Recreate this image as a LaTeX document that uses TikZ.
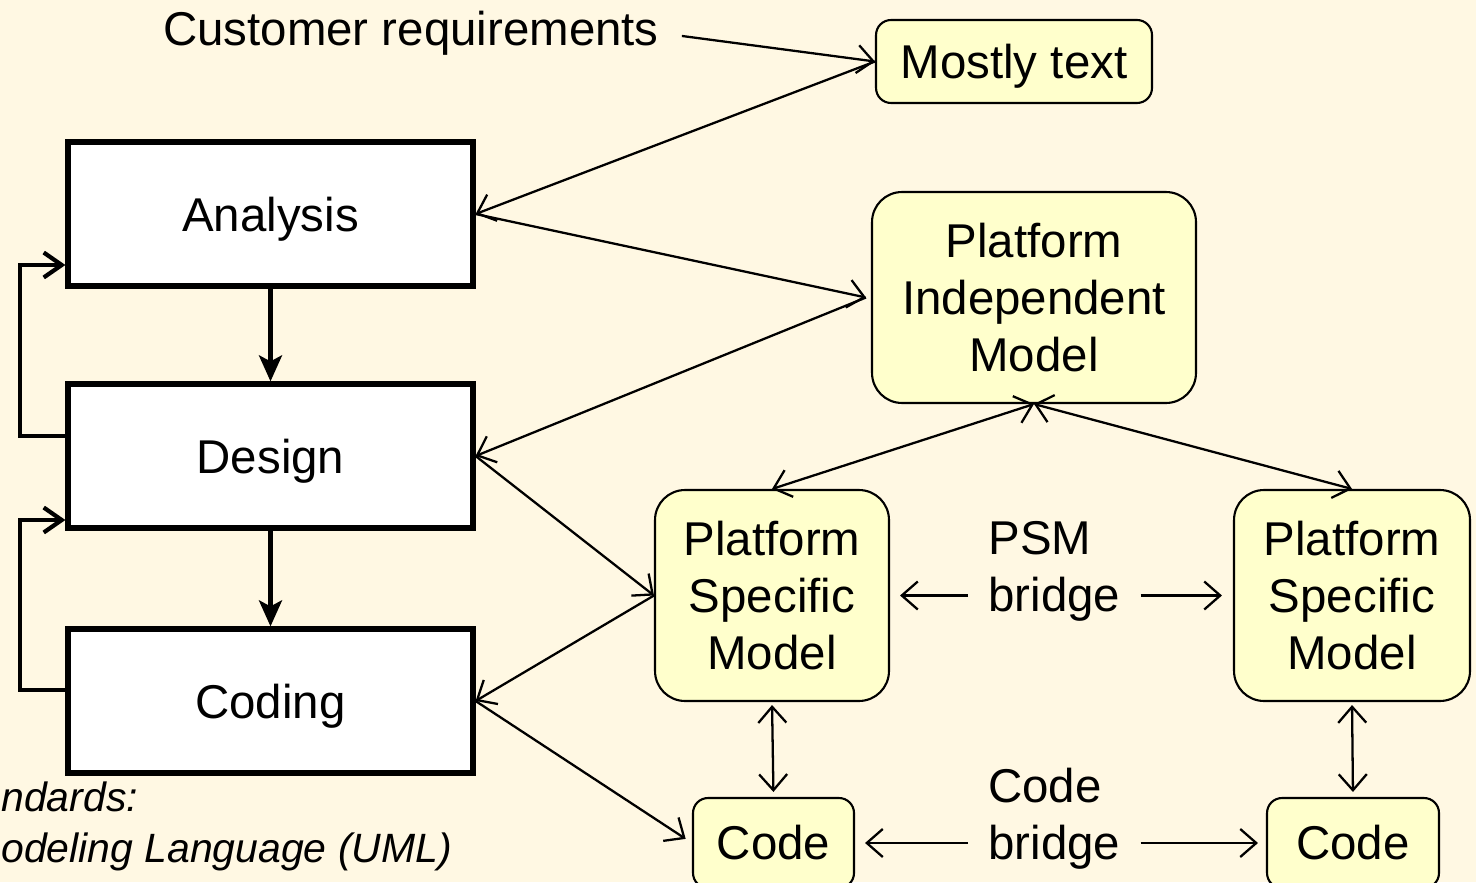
\documentclass[tikz,border=0pt]{standalone}
\usepackage{fontspec}
\setmainfont{Liberation Sans}
\usetikzlibrary{arrows.meta,positioning}
\definecolor{slidebg}{RGB}{255,248,227}
\definecolor{modelfill}{RGB}{255,255,204}

\begin{document}
\begin{tikzpicture}[x=0.02cm, y=-0.02cm,
    font=\fontsize{27}{32.6}\selectfont,
    phase/.style={draw, line width=3pt, fill=white, minimum width=8.1cm, minimum height=2.88cm, inner sep=0pt, text height=19.5pt, text depth=0pt},
    model/.style={draw, line width=1.2pt, fill=modelfill, rounded corners=0.6cm, align=center, inner sep=0pt},
    lbl/.style={align=left, inner xsep=0.4cm},
    link/.style={line width=1.3pt, -{Straight Barb[length=0.32cm,width=0.56cm]}},
    dlink/.style={line width=1.3pt, {Straight Barb[length=0.32cm,width=0.56cm]}-{Straight Barb[length=0.32cm,width=0.56cm]}},
    flow/.style={line width=2.4pt, -{Stealth[length=0.52cm,width=0.46cm,inset=0.12cm]}},
    back/.style={line width=2.4pt, -{Straight Barb[length=0.36cm,width=0.5cm]}}]
    \fill[slidebg] (0,0) rectangle (1476,882);
    \useasboundingbox (0,0) rectangle (1476,882);

    \node[phase] (ana) at (270.5,214) {Analysis};
    \node[phase] (des) at (270.5,456) {Design};
    \node[phase] (cod) at (270.5,701) {Coding};
    \draw[flow] (ana) -- (des);
    \draw[flow] (des) -- (cod);
    \draw[back] (des.west |- 0,436) -| (20,265) -- (ana.west |- 0,265);
    \draw[back] (cod.west |- 0,690) -| (20,520) -- (des.west |- 0,520);

    \node[anchor=base] (req) at (411,46) {Customer requirements};
    \node[model, rounded corners=0.3cm, minimum width=5.52cm, minimum height=1.66cm, text height=19.5pt, text depth=0pt] (txt) at (1014,61.5) {Mostly text};
    \node[model, minimum width=6.48cm, minimum height=4.22cm] (pim) at (1034,297.5) {Platform\\Independent\\Model};
    \node[model, minimum width=4.68cm, minimum height=4.22cm] (psma) at (772,595.5) {Platform\\Specific\\Model};
    \node[model, minimum width=4.72cm, minimum height=4.22cm] (psmb) at (1352,595.5) {Platform\\Specific\\Model};
    \node[model, rounded corners=0.3cm, minimum width=3.22cm, minimum height=1.8cm] (codea) at (773.5,843) {Code};
    \node[model, rounded corners=0.3cm, minimum width=3.44cm, minimum height=1.8cm] (codeb) at (1353,843) {Code};
    \node[lbl, anchor=west] (psmbr) at (968,571) {PSM\\bridge};
    \node[lbl, anchor=west] (codebr) at (968,819) {Code\\bridge};

    \draw[link, shorten <=0.34cm] (req.east) -- (txt.west);
    \draw[link] (txt.west) -- (ana.east);
    \draw[link] (ana.east) -- ([xshift=-0.1cm]pim.west);
    \draw[link] ([xshift=-0.1cm]pim.west) -- (des.east);
    \draw[link] (des.east) -- (psma.west);
    \draw[link] (psma.west) -- (cod.east);
    \draw[link, shorten >=0.15cm] (cod.east) -- (codea.west);

    \draw[dlink] (pim.south) -- (psma.north);
    \draw[dlink] (pim.south) -- (psmb.north);
    \draw[dlink, shorten <=0.06cm, shorten >=0.1cm] (psma.south) -- (codea.north);
    \draw[dlink, shorten <=0.06cm, shorten >=0.1cm] (psmb.south) -- (codeb.north);

    \draw[link, shorten >=0.2cm] (psmbr.west |- psma.east) -- (psma.east);
    \draw[link, shorten >=0.22cm] (psmbr.east |- psmb.west) -- (psmb.west);
    \draw[link, shorten >=0.2cm] (codebr.west |- codea.east) -- (codea.east);
    \draw[link, shorten >=0.16cm] (codebr.east |- codeb.west) -- (codeb.west);

    \node[anchor=base west, inner sep=0pt, font=\fontsize{23.3}{28}\selectfont\itshape] (std) at (1,811) {ndards:};
    \node[anchor=base west, inner sep=0pt, font=\fontsize{23.3}{28}\selectfont\itshape] (uml) at (1,862) {odeling Language (UML)};
\end{tikzpicture}
\end{document}
